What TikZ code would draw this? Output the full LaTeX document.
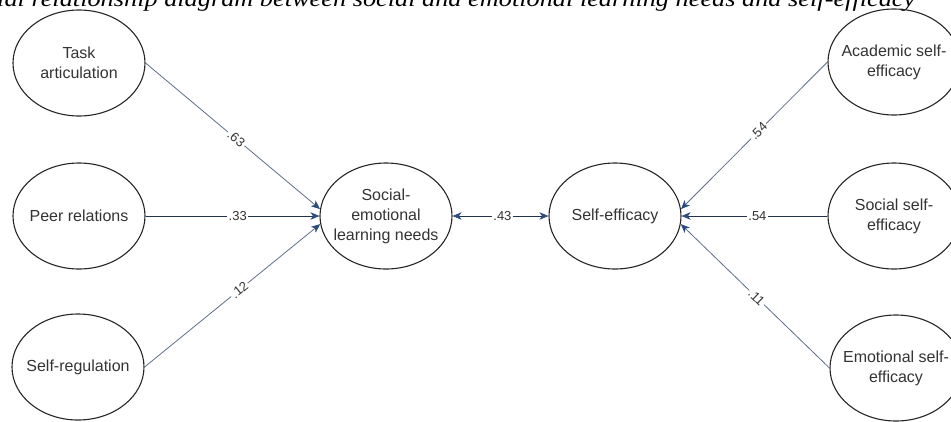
\documentclass[tikz,border=0pt]{standalone}
\usepackage{fontspec}
\setmainfont{Liberation Sans}
\newfontfamily\titlefont{Liberation Serif}
\usetikzlibrary{arrows.meta,shapes.geometric}
\definecolor{edgecol}{HTML}{22324D}
\definecolor{diagcol}{HTML}{5E6E88}
\definecolor{tipcol}{HTML}{2B4C7E}
\definecolor{txtcol}{HTML}{333333}
\tikzset{
  latent/.style={ellipse, draw=black!85, line width=1.1pt, minimum width=132pt,
    minimum height=106pt, inner sep=-8pt, align=center, text=txtcol,
    font=\fontsize{16}{20}\selectfont},
  tipstyle/.style={},
  pathc/.style={draw=edgecol, line width=0.9pt,
    -{Stealth[length=9pt,width=7.5pt,inset=2.5pt,color=tipcol]}},
  diagpath/.style={pathc, draw=diagcol, line width=0.8pt},
  bipath/.style={draw=edgecol, line width=0.9pt,
    {Stealth[length=9pt,width=7.5pt,inset=2.5pt,color=tipcol]}-{Stealth[length=9pt,width=7.5pt,inset=2.5pt,color=tipcol]}},
  lbl/.style={fill=white, inner sep=1.5pt, text=txtcol,
    font=\fontsize{13}{13}\selectfont},
  titletext/.style={anchor=base west, inner sep=0pt, font=\titlefont\itshape}
}
\begin{document}
\begin{tikzpicture}[x=1pt,y=-1pt]
\useasboundingbox (0,0) rectangle (951,421);
\clip (0,0) rectangle (951,421);
\node[titletext] (title) at (-3,6) {\resizebox{918pt}{16pt}{ial relationship diagram between social and emotional learning needs and self-efficacy}};

\node[latent] (task) at (79,63) {Task\\articulation};
\node[latent] (peer) at (79,216) {Peer relations};
\node[latent] (sreg) at (78,367) {Self-regulation};
\node[latent] (sel) at (386,216) {Social-\\emotional\\learning needs};
\node[latent] (se) at (615,216) {Self-efficacy};
\node[latent] (acad) at (894,62) {Academic self-\\efficacy};
\node[latent] (soc) at (894,216) {Social self-\\efficacy};
\node[latent] (emo) at (896,368) {Emotional self-\\efficacy};

\draw[diagpath] (task.east) -- node[lbl, sloped, pos=0.52] {.63} (sel.174);
\draw[pathc] (peer.east) -- node[lbl, pos=0.53] {.33} (sel.west);
\draw[diagpath] (sreg.east) -- node[lbl, sloped, pos=0.54] {.12} (sel.187);
\draw[bipath] (sel.east) -- node[lbl, pos=0.52] {.43} (se.west);
\draw[diagpath] (acad.west) -- node[lbl, sloped, pos=0.47] {.54} (se.6);
\draw[pathc] (soc.west) -- node[lbl, pos=0.48] {.54} (se.east);
\draw[diagpath] (emo.west) -- node[lbl, sloped, pos=0.49] {.11} (se.-7);
\end{tikzpicture}
\end{document}
